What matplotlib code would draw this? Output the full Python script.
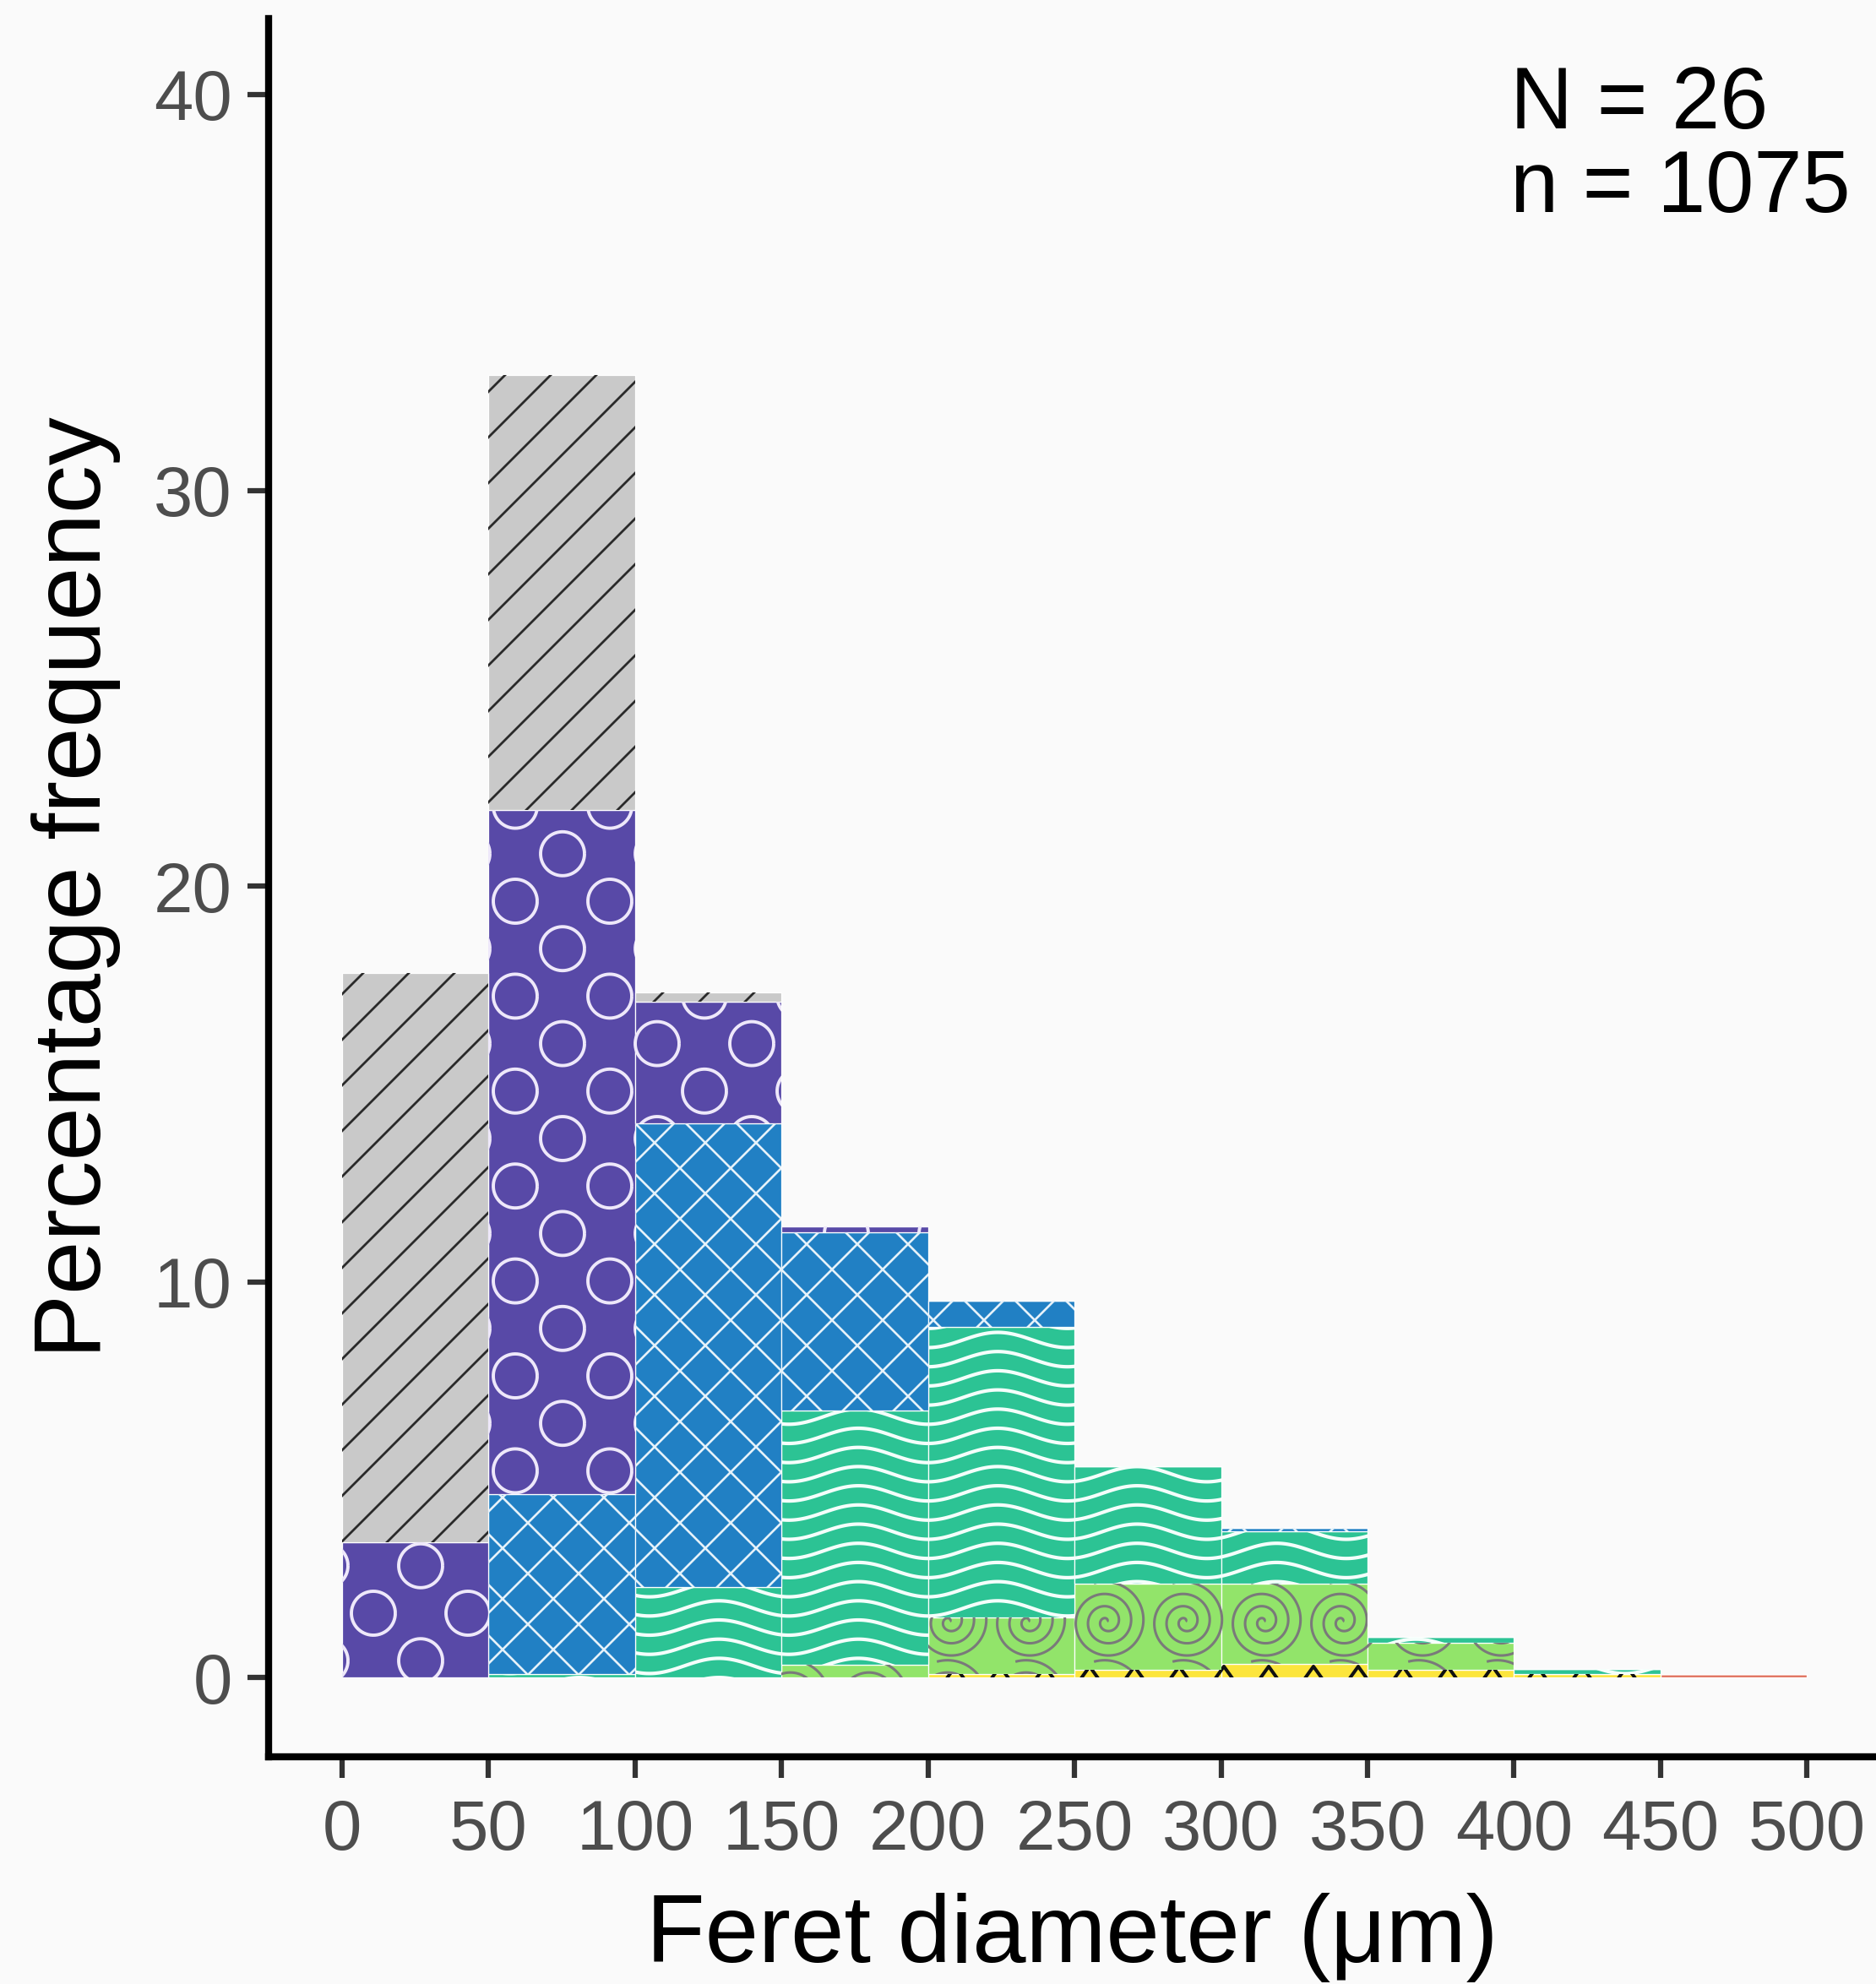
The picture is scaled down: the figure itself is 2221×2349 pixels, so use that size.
import numpy as np
import matplotlib
matplotlib.use("Agg")
import matplotlib.pyplot as plt
from matplotlib.collections import LineCollection
from matplotlib.transforms import IdentityTransform

plt.rcParams['font.family'] = ['Liberation Sans', 'DejaVu Sans']

# histogram bins (left edges, um) and stacked percentages per class
bin_left = [0, 50, 100, 150, 200, 250, 300, 350, 400, 450]
red    = [0, 0, 0, 0, 0, 0, 0, 0, 0, 0.09]
yellow = [0, 0, 0, 0, 0.09, 0.2, 0.34, 0.19, 0.09, 0]
green  = [0, 0, 0, 0.33, 1.43, 2.18, 2.04, 0.69, 0, 0]
teal   = [0, 0.09, 2.3, 6.41, 7.35, 2.96, 1.31, 0.14, 0.14, 0]
blue   = [0, 4.55, 11.7, 4.51, 0.65, 0, 0.09, 0, 0, 0]
purple = [3.42, 17.28, 3.07, 0.15, 0, 0, 0, 0, 0, 0]
gray   = [14.38, 11.0, 0.24, 0, 0, 0, 0, 0, 0, 0]

x_ticks = [0, 50, 100, 150, 200, 250, 300, 350, 400, 450, 500]
y_ticks = [0, 10, 20, 30, 40]

W, H = 2221, 2349
fig = plt.figure(figsize=(W / 100, H / 100), dpi=100, facecolor='#FAFAFA')
ax = fig.add_axes([318 / W, 1 - 2080 / H, 1 - 318 / W, (2080 - 22) / H])
ax.set_facecolor('#FAFAFA')
ax.set_xlim(-25.1, 523.6)
ax.set_ylim(-2.0, 41.92)


# ---- pattern helpers (all in output pixels, y up) ----
def stripes(x0, y0, x1, y1):
    segs = []
    c0 = (2349 - 1152) - 700
    xs = np.array([x0 - 5, x1 + 5])
    for c in np.arange(c0 - 54 * 60, c0 + 54 * 60, 54):
        if c < y0 - x1 - 60 or c > y1 - x0 + 60:
            continue
        segs.append(np.column_stack([xs, xs + c]))
    return segs


def circles(x0, y0, x1, y1):
    segs = []
    t = np.linspace(0, 2 * np.pi, 60)
    ax_, ay_ = 442, 2349 - 1910
    for j in range(-60, 60):
        cy = ay_ + 56.2 * j
        if cy < y0 - 30 or cy > y1 + 30:
            continue
        off = 0 if j % 2 == 0 else 56
        for i in range(-30, 30):
            cx = ax_ + off + 112 * i
            if cx < x0 - 30 or cx > x1 + 30:
                continue
            segs.append(np.column_stack([cx + 26 * np.cos(t), cy + 26 * np.sin(t)]))
    return segs


def crosshatch(x0, y0, x1, y1):
    segs = []
    px, py = 775, 2349 - 1353
    xs = np.array([x0 - 5, x1 + 5])
    for c in np.arange((py - px) - 60 * 60, (py - px) + 60 * 60, 60):
        segs.append(np.column_stack([xs, xs + c]))
    for c in np.arange((py + px) - 60 * 80, (py + px) + 60 * 40, 60):
        segs.append(np.column_stack([xs, -xs + c]))
    return segs


def waves(x0, y0, x1, y1):
    segs = []
    xs = np.linspace(x0 - 5, x1 + 5, 80)
    base = 2349 - 1700
    for k in range(-100, 100):
        c = base + 22.7 * k
        if c < y0 - 20 or c > y1 + 20:
            continue
        segs.append(np.column_stack([xs, c + 9 * np.sin(2 * np.pi * (xs - 1140) / 165)]))
    return segs


def spirals(x0, y0, x1, y1):
    segs = []
    th = np.linspace(0.3, 3.3 * 2 * np.pi, 300)
    r = 48 * th / th[-1]
    ax_, ay_ = 1310, 2349 - 1920
    for j in range(-30, 30):
        cy = ay_ + 93 * j
        if cy < y0 - 50 or cy > y1 + 50:
            continue
        for i in range(-30, 30):
            cx = ax_ + 93 * i
            if cx < x0 - 50 or cx > x1 + 50:
                continue
            segs.append(np.column_stack([cx + r * np.cos(th), cy + r * np.sin(th)]))
    return segs


def chevrons(x0, y0, x1, y1):
    segs = []
    ax_, ay_ = 1290, 2349 - 1973
    for j in range(-40, 40):
        cy = ay_ + 30 * j
        if cy < y0 - 20 or cy > y1 + 20:
            continue
        for i in range(-40, 40):
            cx = ax_ + 53 * i
            if cx < x0 - 15 or cx > x1 + 15:
                continue
            segs.append(np.array([[cx - 10, cy - 14], [cx, cy], [cx + 10, cy - 14]]))
    return segs


layers = [
    (red, '#E0705C', None, None, 0),
    (yellow, '#FCE53C', chevrons, '#111111', 2.9),
    (green, '#92E46A', spirals, '#7A7A7A', 2.2),
    (teal, '#2CC394', waves, '#F4FFFB', 3.0),
    (blue, '#2180C4', crosshatch, '#E6F2FA', 1.9),
    (purple, '#5849A7', circles, '#EEE8FA', 2.8),
    (gray, '#C9C9C9', stripes, '#2A2A2A', 2.0),
]

bottom = np.zeros(len(bin_left))
for vals, col, pat, pcol, plw in layers:
    vals = np.array(vals)
    bars = ax.bar(bin_left, vals, width=50, bottom=bottom, align='edge',
                  color=col, edgecolor='white', linewidth=0.9, zorder=2)
    bottom = bottom + vals
    if pat is None:
        continue
    for rect, v in zip(bars.patches, vals):
        if v <= 0:
            continue
        (px0, py0), (px1, py1) = ax.transData.transform(
            [[rect.get_x(), rect.get_y()],
             [rect.get_x() + rect.get_width(), rect.get_y() + rect.get_height()]])
        lc = LineCollection(pat(px0, py0, px1, py1), colors=pcol, linewidths=plw,
                            transform=IdentityTransform(), zorder=2.5)
        ax.add_collection(lc, autolim=False)
        # clip to the bar itself (set after add_collection so it isn't overwritten)
        lc.set_clip_path(rect)

# axes styling
for s in ['top', 'right']:
    ax.spines[s].set_visible(False)
for s in ['left', 'bottom']:
    ax.spines[s].set_linewidth(6)
    ax.spines[s].set_color('black')
    ax.spines[s].set_capstyle('projecting')

ax.set_xticks(x_ticks)
ax.set_yticks(y_ticks)
ax.tick_params(axis='both', length=18, width=4.5, color='#333333',
               labelsize=60, labelcolor='#4D4D4D')
ax.tick_params(axis='x', pad=17)
ax.tick_params(axis='y', pad=13)

ax.set_xlabel('Feret diameter (μm)', fontsize=82, va='baseline')
ax.xaxis.set_label_coords(0.5, (2080 - 2323) / (2080 - 22))
ax.set_ylabel('Percentage frequency', fontsize=82, va='baseline')
ax.yaxis.set_label_coords((119 - 318) / (W - 318), 0.5)

fig.text(1788 / W, 1 - 152 / H, 'N = 26', fontsize=74, va='baseline', ha='left')
fig.text(1788 / W, 1 - 251 / H, 'n = 1075', fontsize=74, va='baseline', ha='left')

fig.savefig('out.png', dpi=100, facecolor=fig.get_facecolor())
